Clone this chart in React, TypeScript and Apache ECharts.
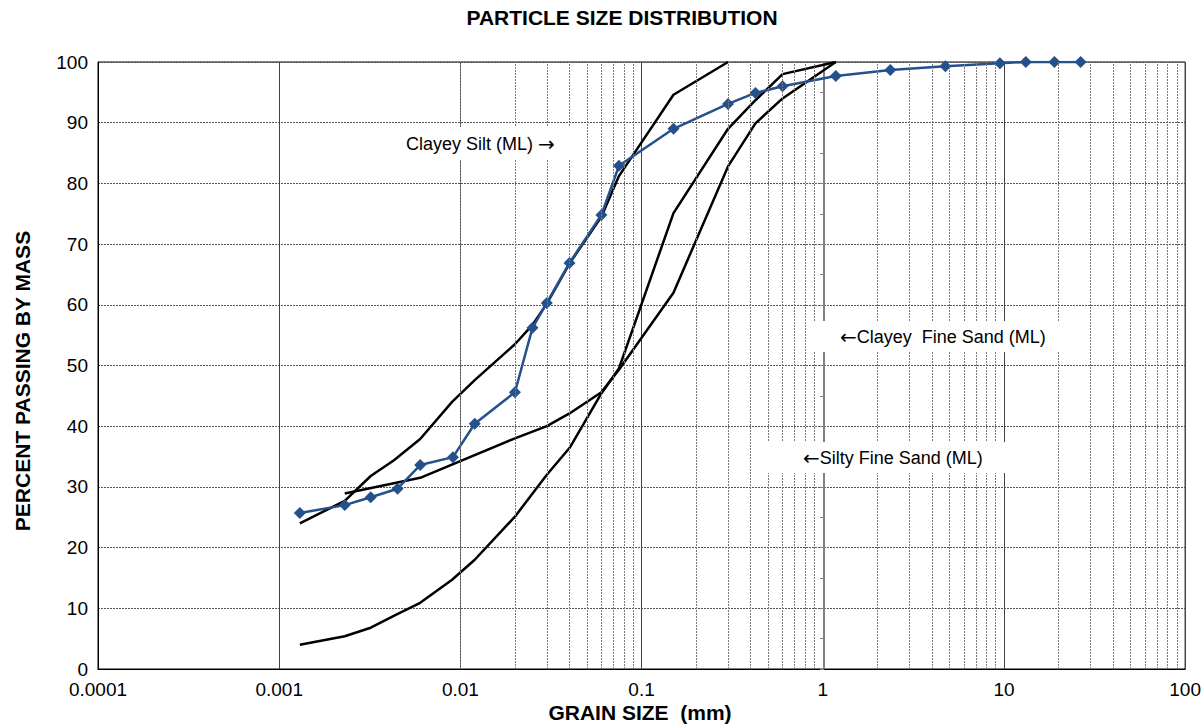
import React, { useEffect, useRef } from "react";
import * as echarts from "echarts";

// ---- data ----
const sampleSizes = [0.0013, 0.0023, 0.0032, 0.0045, 0.006, 0.0091, 0.012, 0.02, 0.025, 0.03, 0.04, 0.06, 0.075, 0.15, 0.3, 0.425, 0.6, 1.18, 2.36, 4.75, 9.5, 13.2, 19, 26.5];
const samplePassing = [25.7, 27.0, 28.3, 29.7, 33.6, 34.9, 40.4, 45.6, 56.2, 60.3, 66.9, 74.8, 82.9, 89.0, 93.1, 94.9, 96.0, 97.7, 98.7, 99.3, 99.8, 100, 100, 100];

const clayeySiltSizes = [0.0013, 0.0023, 0.0032, 0.0043, 0.006, 0.009, 0.012, 0.02, 0.025, 0.03, 0.04, 0.06, 0.075, 0.15, 0.3];
const clayeySiltPassing = [24.0, 27.7, 31.8, 34.4, 37.9, 44.0, 47.6, 53.5, 56.7, 60.2, 66.8, 74.5, 81.2, 94.6, 100];

const clayeySandSizes = [0.0023, 0.006, 0.02, 0.03, 0.04, 0.06, 0.075, 0.15, 0.3, 0.425, 0.6, 1.18];
const clayeySandPassing = [28.9, 31.5, 38.0, 40.0, 42.1, 45.6, 49.3, 62.0, 82.8, 89.9, 94.0, 100];

const siltySandSizes = [0.0013, 0.0023, 0.0032, 0.0044, 0.006, 0.009, 0.012, 0.02, 0.03, 0.04, 0.06, 0.075, 0.15, 0.3, 0.425, 0.6, 1.18];
const siltySandPassing = [4.0, 5.4, 6.8, 8.9, 10.9, 14.7, 18.0, 25.1, 32.0, 36.4, 45.4, 49.5, 75.1, 89.0, 93.7, 98.0, 100];

const xTickLabels = ["0.0001", "0.001", "0.01", "0.1", "1", "10", "100"];
const decadeExponents = [-4, -3, -2, -1, 0, 1];
const minorMultipliers = [2, 3, 4, 5, 6, 7, 8, 9];

const titleText = "PARTICLE SIZE DISTRIBUTION";
const xTitle = "GRAIN SIZE  (mm)";
const yTitle = "PERCENT PASSING BY MASS";
const noteClayeySilt = "Clayey Silt (ML) {a|\u2192}";
const noteClayeySand = "{a|\u2190}Clayey  Fine Sand (ML)";
const noteSiltySand = "{a|\u2190}Silty Fine Sand (ML)";

const FONT = "'Liberation Sans', Arial, Helvetica, sans-serif";

const pairs = (xs: number[], ys: number[]) => xs.map((x, i) => [x, ys[i]]);

export default function App() {
  const ref = useRef<HTMLDivElement>(null);
  useEffect(() => {
    if (!ref.current) return;
    const chart = echarts.init(ref.current, undefined, { renderer: "svg" });
    const minorValues: number[] = [];
    decadeExponents.forEach((e) => minorMultipliers.forEach((m) => minorValues.push(+(m * Math.pow(10, e)).toPrecision(3))));

    const blackLine = (name: string, xs: number[], ys: number[]) => ({
      name,
      type: "line",
      data: pairs(xs, ys),
      showSymbol: false,
      symbol: "none",
      z: 3,
      lineStyle: { color: "#000", width: 2.5 },
      silent: true,
    });

    const box = (x: number, y: number, w: number, h: number, tx: number, text: string) => ({
      type: "group",
      children: [
        { type: "rect", shape: { x, y, width: w, height: h }, style: { fill: "#fff" }, z: 10 },
        {
          type: "text",
          x: tx,
          y: y + h / 2,
          z: 11,
          style: {
            text,
            fill: "#000",
            font: `18px ${FONT}`,
            textAlign: "left",
            textVerticalAlign: "middle",
            rich: { a: { fontFamily: "'DejaVu Sans'", fontSize: 20, fill: "#000", color: "#000" } },
          },
        },
      ],
    });

    chart.setOption({
      animation: false,
      backgroundColor: "#fff",
      grid: { left: 98, right: 17, top: 62, bottom: 55, show: true, borderColor: "#000", borderWidth: 1 },
      xAxis: {
        type: "log",
        logBase: 10,
        min: 0.0001,
        max: 100,
        axisLine: { onZero: false, lineStyle: { color: "#000", width: 1 } },
        axisTick: { show: false },
        axisLabel: {
          margin: 11,
          color: "#000",
          fontSize: 19,
          fontFamily: FONT,
          formatter: (v: number) => xTickLabels[Math.round(Math.log10(v)) + 4] ?? "",
        },
        splitLine: { show: true, lineStyle: { color: "#444", width: 1, type: "solid" } },
      },
      yAxis: [
        {
          type: "value",
          min: 0,
          max: 100,
          interval: 10,
          axisLine: { show: true, onZero: false, lineStyle: { color: "#000", width: 1 } },
          axisTick: { show: false },
          axisLabel: { margin: 10, color: "#000", fontSize: 19, fontFamily: FONT },
          splitLine: { show: true, lineStyle: { color: "#555", width: 1, type: [2, 1] } },
        },
        {
          type: "value",
          min: 0,
          max: 100,
          interval: 5,
          position: "left",
          offset: -726,
          axisLine: { show: true, onZero: false, lineStyle: { color: "#808080", width: 2 } },
          axisTick: { show: true, length: 4, lineStyle: { color: "#808080", width: 1 } },
          axisLabel: { show: false },
          splitLine: { show: false },
        },
      ],
      series: [
        {
          type: "line",
          data: [],
          z: 1,
          silent: true,
          markLine: {
            silent: true,
            symbol: ["none", "none"],
            label: { show: false },
            lineStyle: { color: "#7a7a7a", width: 1, type: [2, 1] },
            data: minorValues.map((v) => ({ xAxis: v })),
          },
        },
        blackLine("Clayey Silt (ML)", clayeySiltSizes, clayeySiltPassing),
        blackLine("Clayey Fine Sand (ML)", clayeySandSizes, clayeySandPassing),
        blackLine("Silty Fine Sand (ML)", siltySandSizes, siltySandPassing),
        {
          name: "Sample",
          type: "line",
          data: pairs(sampleSizes, samplePassing),
          z: 4,
          symbol: "diamond",
          symbolSize: 12,
          lineStyle: { color: "#24518C", width: 2.5 },
          itemStyle: { color: "#24518C" },
        },
      ],
      graphic: [
        {
          type: "text",
          x: 622,
          y: 17,
          style: { text: titleText, fill: "#000", font: `bold 21px ${FONT}`, textAlign: "center", textVerticalAlign: "middle" },
        },
        {
          type: "text",
          x: 640,
          y: 712,
          style: { text: xTitle, fill: "#000", font: `bold 21px ${FONT}`, textAlign: "center", textVerticalAlign: "middle" },
        },
        {
          type: "text",
          x: 22,
          y: 381,
          rotation: Math.PI / 2,
          style: { text: yTitle, fill: "#000", font: `bold 21px ${FONT}`, textAlign: "center", textVerticalAlign: "middle" },
        },
        box(365, 127, 215, 33, 406, noteClayeySilt),
        box(810, 321, 252, 31, 840, noteClayeySand),
        box(768, 442, 240, 31, 803, noteSiltySand),
      ],
    });
    return () => chart.dispose();
  }, []);
  return <div ref={ref} style={{ width: 1204, height: 724, position: "absolute", left: 0, top: 0 }} />;
}
